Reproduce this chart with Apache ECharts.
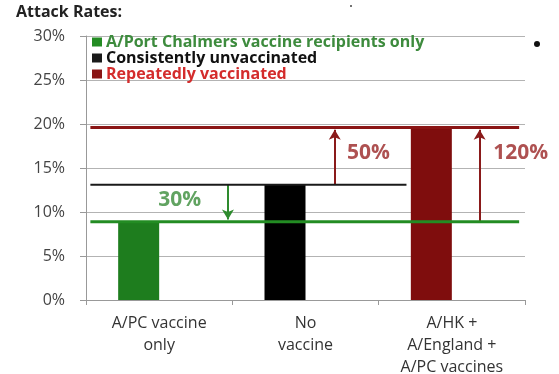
<!DOCTYPE html>
<html>
<head>
<meta charset="utf-8">
<script src="https://cdn.jsdelivr.net/npm/echarts@6/dist/echarts.min.js"></script>
<style>
  html, body { margin: 0; padding: 0; background: #fff; }
  #chart { width: 559px; height: 374px; }
</style>
</head>
<body>
<div id="chart"></div>
<script>
// Attack rates by vaccination history
const categories = ['A/PC vaccine\nonly', 'No\nvaccine', 'A/HK +\nA/England +\nA/PC vaccines'];
const attackRates = [8.9, 13.1, 19.6];           // percent
const groupNames = [
  'A/Port Chalmers vaccine recipients only',
  'Consistently unvaccinated',
  'Repeatedly vaccinated'
];
const changeLabels = ['30%', '50%', '120%'];
const yTickMax = 30;
const yTickStep = 5;

// colours
const barColors = ['#1e7d1e', '#000000', '#7f0d0d'];
const lineColors = ['#238c23', '#1a1a1a', '#8a1515'];
const legendTextColors = ['#3d8b3d', '#111111', '#d42c2c'];
const greenText = '#3a8c3a';
const redText = '#9a2626';

// reference-line extents in category units (0..3 across the plot)
const lineStart = 0.03;
const lineEnds = [2.96, 2.19, 2.96];
const arrowAt = [0.97, 1.70, 2.69];
const labelAt = [[0.64, 11.4], [1.93, 16.7], [2.97, 16.7]];

const [greenVal, blackVal, redVal] = attackRates;
const font = '"Open Sans", Lato, sans-serif';

const chart = echarts.init(document.getElementById('chart'), null, { renderer: 'canvas' });

const refLine = (i) => ({
  name: groupNames[i],
  type: 'line',
  xAxisIndex: 1,
  yAxisIndex: 0,
  data: [[lineStart, attackRates[i]], [lineEnds[i], attackRates[i]]],
  symbol: 'none',
  silent: true,
  z: 5,
  color: lineColors[i],
  lineStyle: { color: lineColors[i], width: i === 1 ? 2 : 3 }
});

const arrow = (x, from, to, color) => [
  { coord: [x, from], lineStyle: { color: color, width: 2, type: 'solid' } },
  { coord: [x, to] }
];

const greenLine = refLine(0);
greenLine.markLine = {
  silent: true, animation: false, symbol: ['none', 'arrow'], symbolSize: [9, 10],
  label: { show: false },
  data: [arrow(arrowAt[0], blackVal, greenVal + 0.25, '#2e8b2e')]
};
const blackLine = refLine(1);
const redLine = refLine(2);
redLine.markLine = {
  silent: true, animation: false, symbol: ['none', 'arrow'], symbolSize: [9, 10],
  label: { show: false },
  data: [
    arrow(arrowAt[1], blackVal, redVal - 0.25, '#8a1a1a'),
    arrow(arrowAt[2], greenVal, redVal - 0.25, '#8a1a1a')
  ]
};

chart.setOption({
  animation: false,
  backgroundColor: '#ffffff',
  textStyle: { fontFamily: font },
  graphic: [
    { type: 'text', left: 16, top: 4, style: { text: 'Attack Rates:', font: 'bold 16px ' + font, fill: '#222' } },
    { type: 'circle', shape: { cx: 537, cy: 44, r: 3 }, style: { fill: '#111' } },
    { type: 'circle', shape: { cx: 351, cy: 6, r: 1 }, style: { fill: '#444' } }
  ],
  legend: {
    orient: 'vertical',
    left: 87,
    top: 29,
    itemGap: 0,
    itemWidth: 10,
    itemHeight: 9,
    icon: 'rect',
    selectedMode: false,
    textStyle: { fontFamily: font, fontWeight: 'bold', fontSize: 16, lineHeight: 14, padding: [0, 0, 0, -1] },
    data: groupNames.map((n, i) => ({ name: n, textStyle: { color: legendTextColors[i] } }))
  },
  grid: { left: 86, right: 34, top: 36, bottom: 74, outerBoundsMode: 'none', containLabel: false },
  xAxis: [
    {
      type: 'category',
      data: categories,
      axisLine: { lineStyle: { color: '#999', width: 1 } },
      axisTick: { show: true, length: 5, lineStyle: { color: '#999' } },
      axisLabel: { color: '#333', fontSize: 16, lineHeight: 22, margin: 12, fontFamily: font }
    },
    { type: 'value', min: 0, max: 3, show: false }
  ],
  yAxis: {
    type: 'value',
    min: 0,
    max: yTickMax,
    interval: yTickStep,
    axisLine: { show: true, lineStyle: { color: '#999' } },
    axisTick: { show: true, length: 6, lineStyle: { color: '#999' } },
    splitLine: { lineStyle: { color: '#b3b3b3', width: 1 } },
    axisLabel: { formatter: '{value}%', color: '#444', fontSize: 16, margin: 21, fontFamily: font }
  },
  series: [
    {
      name: 'rate',
      type: 'bar',
      barWidth: 41,
      barGap: '0%',
      data: attackRates.map((v, i) => ({ value: v, itemStyle: { color: barColors[i] } })),
      z: 2
    },
    { name: 'spacer', type: 'bar', barWidth: 41, data: categories.map(() => '-') },
    greenLine,
    blackLine,
    redLine,
    {
      name: 'changes',
      type: 'scatter',
      xAxisIndex: 1,
      symbolSize: 0,
      silent: true,
      clip: false,
      z: 10,
      data: changeLabels.map((t, i) => ({
        value: labelAt[i],
        label: {
          show: true, position: 'inside', formatter: t,
          color: i === 0 ? greenText : redText,
          fontSize: 21, fontWeight: 'bold', fontFamily: font
        }
      }))
    }
  ]
});
</script>
</body>
</html>
